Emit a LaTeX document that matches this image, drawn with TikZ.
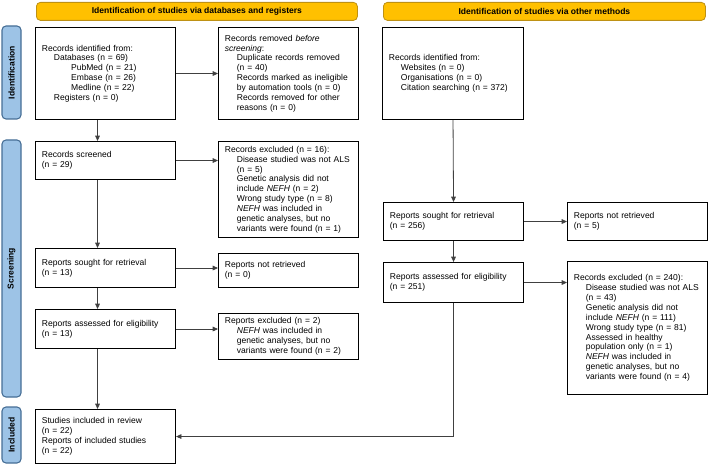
\documentclass[tikz,border=0pt]{standalone}
\usepackage{fontspec}
\setmainfont{Liberation Sans}
\usetikzlibrary{arrows.meta}

\definecolor{hdrfill}{RGB}{255,192,0}
\definecolor{hdrline}{RGB}{190,145,20}
\definecolor{sidefill}{RGB}{157,195,230}
\definecolor{sideline}{RGB}{70,110,150}

\newcommand{\indA}{\hspace*{9pt}}
\newcommand{\indB}{\hspace*{22pt}}
\newcommand{\boxfont}{\fontsize{6.4}{7.4}\selectfont}

\tikzset{
  box/.style={draw, line width=0.8pt, anchor=north west, inner xsep=4.75pt, inner ysep=0pt,
    align=left, text width=95.5pt, font=\boxfont},
  hdr/.style={draw=hdrline, fill=hdrfill, line width=0.6pt, rounded corners=3pt, anchor=north west,
    inner sep=0pt, minimum height=13.5pt, font=\boxfont\bfseries},
  side/.style={draw=sideline, fill=sidefill, line width=0.8pt, rounded corners=3pt, rotate=90,
    inner sep=0pt, minimum height=14.25pt, font=\boxfont\bfseries},
  arr/.style={-{Triangle[length=4pt,width=3.5pt]}, line width=0.6pt, draw=black!75},
}

\begin{document}
\begin{tikzpicture}[x=0.75pt,y=0.75pt,yscale=-1,xscale=1]
\useasboundingbox (0,0) rectangle (709,466);

% Headers
\node [hdr, minimum width=240.75pt] (hdrDb) at (36,2) {Identification of studies via databases and registers};
\node [hdr, minimum width=241.5pt] (hdrOth) at (383,2) {Identification of studies via other methods};

% Side labels
\node [side, minimum width=69.75pt] (sideId) at (11.5,72.5) {Identification};
\node [side, minimum width=192.75pt] (sideScr) at (11.5,268.5) {Screening};
\node [side, minimum width=42pt] (sideInc) at (11.5,435) {Included};

% Identification
\node [box, minimum height=69pt] (idDb) at (35,27) {Records identified from:\\
\indA Databases (n = 69)\\
\indB PubMed (n = 21)\\
\indB Embase (n = 26)\\
\indB Medline (n = 22)\\
\indA Registers (n = 0)};
\node [box, minimum height=69pt] (idRm) at (218,27) {Records removed \textit{before}\\
\textit{screening}:\\
\indA Duplicate records removed\\
\indA (n = 40)\\
\indA Records marked as ineligible\\
\indA by automation tools (n = 0)\\
\indA Records removed for other\\
\indA reasons (n = 0)};
\node [box, minimum height=69pt, text width=96.25pt] (idOth) at (382,27) {Records identified from:\\
\indA Websites (n = 0)\\
\indA Organisations (n = 0)\\
\indA Citation searching (n = 372)};

% Screening, databases
\node [box, minimum height=28.5pt] (scr) at (35,141) {Records screened\\(n = 29)};
\node [box, minimum height=72pt] (exclA) at (218,141) {Records excluded (n = 16):\\
\indA Disease studied was not ALS\\
\indA (n = 5)\\
\indA Genetic analysis did not\\
\indA include \textit{NEFH} (n = 2)\\
\indA Wrong study type (n = 8)\\
\indA \textit{NEFH} was included in\\
\indA genetic analyses, but no\\
\indA variants were found (n = 1)};
\node [box, minimum height=29.25pt] (soughtA) at (35,248) {Reports sought for retrieval\\(n = 13)};
\node [box, minimum height=25.5pt] (notretA) at (218,253) {Reports not retrieved\\(n = 0)};
\node [box, minimum height=29.25pt] (assessA) at (35,309) {Reports assessed for eligibility\\(n = 13)};
\node [box, minimum height=34.5pt] (exclB) at (218,313) {Reports excluded (n = 2)\\
\indA \textit{NEFH} was included in\\
\indA genetic analyses, but no\\
\indA variants were found (n = 2)};

% Screening, other methods
\node [box, minimum height=28.5pt] (soughtB) at (383,202) {Reports sought for retrieval\\(n = 256)};
\node [box, minimum height=28.5pt] (notretB) at (567,202) {Reports not retrieved\\(n = 5)};
\node [box, minimum height=30pt] (assessB) at (383,262) {Reports assessed for eligibility\\(n = 251)};
\node [box, minimum height=99.75pt] (exclC) at (567,261) {Records excluded (n = 240):\\
\indA Disease studied was not ALS\\
\indA (n = 43)\\
\indA Genetic analysis did not\\
\indA include \textit{NEFH} (n = 111)\\
\indA Wrong study type (n = 81)\\
\indA Assessed in healthy\\
\indA population only (n = 1)\\
\indA \textit{NEFH} was included in\\
\indA genetic analyses, but no\\
\indA variants were found (n = 4)};

% Included
\node [box, minimum height=40.5pt] (incl) at (35,409) {Studies included in review\\(n = 22)\\Reports of included studies\\(n = 22)};

% Connectors, databases
\draw [arr] ([xshift=-6pt]idDb.south) -- ([xshift=-6pt]scr.north);
\draw [arr] ([xshift=-6pt]scr.south) -- ([xshift=-6pt]soughtA.north);
\draw [arr] ([xshift=-6pt]soughtA.south) -- ([xshift=-6pt]assessA.north);
\draw [arr] ([xshift=-6pt]assessA.south) -- ([xshift=-6pt]incl.north);
\draw [arr] (idDb.east) -- (idDb.east -| idRm.west);
\draw [arr] (scr.east) -- (scr.east -| exclA.west);
\draw [arr] (soughtA.east) -- (soughtA.east -| notretA.west);
\draw [arr] (assessA.east) -- (assessA.east -| exclB.west);

% Connectors, other methods
\draw [arr] (idOth.south) -- (soughtB.north);
\draw [arr] (soughtB.south) -- (assessB.north);
\draw [arr] (soughtB.east) -- (soughtB.east -| notretB.west);
\draw [arr] (assessB.east) -- (assessB.east -| exclC.west);
\draw [arr] (assessB.south) |- (incl.east);

\end{tikzpicture}
\end{document}
